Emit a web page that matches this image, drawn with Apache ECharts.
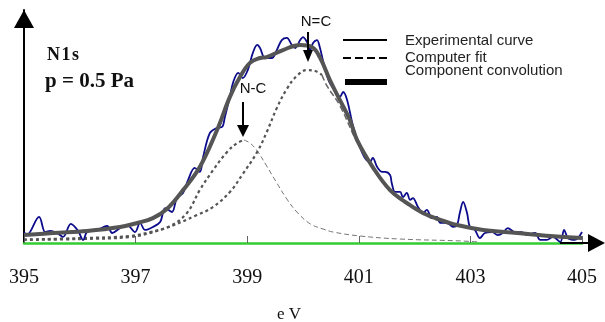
<!DOCTYPE html>
<html>
<head>
<meta charset="utf-8">
<script src="https://cdn.jsdelivr.net/npm/echarts@6/dist/echarts.min.js"></script>
<style>
html,body{margin:0;padding:0;background:#fff;}
#chart{width:605px;height:322px;}
</style>
</head>
<body>
<div id="chart"></div>
<script>
// Experimental curve (binding energy, eV / intensity, arbitrary units)
const expE = [395.0,395.05,395.27,395.38,395.47,395.59,395.70,395.84,395.97,396.06,396.13,396.31,396.49,396.58,396.72,396.85,396.99,397.08,397.17,397.31,397.44,397.53,397.65,397.74,397.85,397.94,398.06,398.15,398.21,398.33,398.46,398.55,398.60,398.69,398.75,398.84,398.92,399.01,399.10,399.18,399.23,399.32,399.44,399.53,399.62,399.71,399.80,399.86,399.95,400.00,400.07,400.13,400.18,400.25,400.30,400.39,400.48,400.57,400.66,400.72,400.79,400.90,401.02,401.11,401.20,401.25,401.33,401.42,401.47,401.56,401.59,401.65,401.74,401.79,401.86,401.92,401.97,402.06,402.15,402.22,402.31,402.40,402.46,402.58,402.69,402.76,402.81,402.87,402.94,402.99,403.08,403.17,403.26,403.39,403.49,403.58,403.67,403.80,403.92,404.01,404.16,404.25,404.37,404.48,404.61,404.68,404.75,404.87,405.0];
const expV = [4.7,3.4,11.2,4.7,5.2,4.3,2.6,8.2,5.2,1.3,4.7,5.6,7.3,4.3,6.4,7.7,4.7,8.6,5.6,6.9,9.0,15.0,13.3,19.3,21.5,27.0,32.2,30.5,36.9,47.2,49.4,49.8,54.1,62.7,69.1,73.0,70.8,74.2,81.5,85.0,83.7,79.4,79.4,82.8,87.1,88.0,85.0,83.7,87.1,88.4,86.3,82.8,85.8,87.1,84.1,75.1,68.7,65.7,62.7,64.8,61.4,49.8,41.2,36.5,34.8,36.5,32.6,30.5,30.5,29.2,25.8,21.9,21.9,19.7,21.5,18.5,19.3,15.5,12.9,14.2,10.7,11.2,8.6,8.6,6.9,7.7,12.9,17.6,12.9,6.9,5.6,2.1,4.3,4.7,3.4,4.3,6.4,4.7,4.7,3.4,4.3,1.3,1.3,2.6,0.4,5.6,2.1,1.3,4.7];

// Total fit (thick grey)
const fitE = [395.0,395.52,396.13,396.72,397.03,397.31,397.56,397.85,398.15,398.46,398.69,398.87,399.05,399.23,399.35,399.64,399.95,400.16,400.30,400.48,400.66,400.84,400.97,401.25,401.56,401.86,402.15,402.46,402.76,403.23,403.84,404.43,405.0];
const fitV = [3.4,4.3,5.2,6.9,8.6,10.7,14.6,22.7,32.6,48.5,62.7,71.2,77.3,79.4,79.8,82.8,85.0,84.1,79.8,70.0,61.4,52.8,44.2,32.6,22.7,17.2,12.9,9.9,7.7,5.6,4.3,3.0,2.1];

// Component N-C
const c1E = [395.0,396.0,396.9,397.26,397.62,397.92,398.15,398.39,398.64,398.82,398.94,399.05,399.18,399.35,399.53,399.71,399.89,400.13,400.36,400.54,401.02,401.74,402.81,403.17];
const c1V = [1.5,2.1,3.0,4.7,7.3,12.9,22.7,31.3,39.1,42.9,44.2,42.9,39.5,33.0,25.8,18.9,13.3,8.2,6.0,4.7,3.0,1.7,0.9,0.4];
const c1Split = 398.94;

// Component N=C
const c2E = [395.0,396.0,396.9,397.49,398.1,398.39,398.69,398.92,399.18,399.35,399.53,399.71,399.89,400.07,400.22,400.34,400.43,400.66,401.0,401.5,402.0,402.5,403.0,403.5,404.0,404.5,405.0];
const c2V = [1.3,1.7,2.6,6.0,12.0,15.5,21.9,29.6,39.1,47.6,57.9,66.1,71.7,74.2,73.8,72.1,67.4,59.0,42.0,24.0,14.5,9.0,6.3,5.0,4.0,3.0,2.0];
const c2Split = 400.34;

// Axis ticks
const xMin = 395, xMax = 405, xStep = 2;

const legendLabels = ['Experimental curve', 'Computer fit', 'Component convolution'];
const peakLabels = ['N=C', 'N-C'];

const pairs = (E, V) => E.map((e, i) => [e, V[i]]);
const upTo = (E, V, s) => pairs(E, V).filter(p => p[0] <= s);
const from = (E, V, s) => pairs(E, V).filter(p => p[0] >= s);

const chart = echarts.init(document.getElementById('chart'), null, {renderer: 'canvas'});

const grey = '#555555';
const option = {
  animation: false,
  backgroundColor: '#ffffff',
  grid: {left: 24, right: 23, top: 10, bottom: 79},
  xAxis: {
    type: 'value', min: xMin, max: xMax, interval: xStep,
    axisLine: {show: true, lineStyle: {color: '#33cc33', width: 2.5}},
    axisTick: {show: true, inside: true, length: 7, lineStyle: {color: '#666', width: 1}},
    axisLabel: {margin: 25, fontFamily: 'Liberation Serif', fontSize: 20, color: '#111'},
    splitLine: {show: false}
  },
  yAxis: {
    type: 'value', min: 0, max: 100,
    axisLine: {show: true, lineStyle: {color: '#000', width: 2}},
    axisTick: {show: false}, axisLabel: {show: false}, splitLine: {show: false}
  },
  series: [
    {type: 'line', data: upTo(c1E, c1V, c1Split), smooth: 0.4, symbol: 'none', z: 2,
     lineStyle: {color: grey, width: 2.2, type: [3, 3]}},
    {type: 'line', data: from(c1E, c1V, c1Split), smooth: 0.4, symbol: 'none', z: 2,
     lineStyle: {color: '#777', width: 1, type: [5, 3]}},
    {type: 'line', data: upTo(c2E, c2V, c2Split), smooth: 0.4, symbol: 'none', z: 2,
     lineStyle: {color: grey, width: 2.2, type: [3, 3]}},
    {type: 'line', data: from(c2E, c2V, c2Split), smooth: 0.4, symbol: 'none', z: 2,
     lineStyle: {color: '#666', width: 1.5, type: [6, 3]}},
    {type: 'line', data: pairs(expE, expV), smooth: 0.35, symbol: 'none', z: 3,
     lineStyle: {color: '#0b0b8c', width: 1.8}},
    {type: 'line', data: pairs(fitE, fitV), smooth: 0.4, symbol: 'none', z: 4,
     lineStyle: {color: grey, width: 4}}
  ],
  graphic: [
    // y axis arrow head
    {type: 'polygon', shape: {points: [[24, 10], [14, 28], [34, 28]]}, style: {fill: '#000'}, z: 10},
    // x axis arrow
    {type: 'line', shape: {x1: 560, y1: 243, x2: 592, y2: 243}, style: {stroke: '#000', lineWidth: 2}, z: 10},
    {type: 'polygon', shape: {points: [[605, 243], [588, 234], [588, 252]]}, style: {fill: '#000'}, z: 10},
    // legend
    {type: 'line', shape: {x1: 343, y1: 40, x2: 387, y2: 40}, style: {stroke: '#000', lineWidth: 2}, z: 10},
    {type: 'line', shape: {x1: 343, y1: 58, x2: 387, y2: 58}, style: {stroke: '#000', lineWidth: 2, lineDash: [8, 4]}, z: 10},
    {type: 'rect', shape: {x: 345, y: 79, width: 42, height: 6}, style: {fill: '#000'}, z: 10},
    {type: 'text', x: 405, y: 41, style: {text: legendLabels[0], font: '15px "Liberation Sans"', fill: '#222', verticalAlign: 'middle'}, z: 10},
    {type: 'text', x: 405, y: 58, style: {text: legendLabels[1], font: '15px "Liberation Sans"', fill: '#222', verticalAlign: 'middle'}, z: 10},
    {type: 'text', x: 405, y: 71, style: {text: legendLabels[2], font: '15px "Liberation Sans"', fill: '#222', verticalAlign: 'middle'}, z: 10},
    // peak labels and arrows
    {type: 'text', x: 316, y: 22, style: {text: peakLabels[0], font: '15px "Liberation Sans"', fill: '#111', align: 'center', verticalAlign: 'middle'}, z: 10},
    {type: 'line', shape: {x1: 308, y1: 32, x2: 308, y2: 52}, style: {stroke: '#000', lineWidth: 2}, z: 10},
    {type: 'polygon', shape: {points: [[303, 50], [313, 50], [308, 62]]}, style: {fill: '#000'}, z: 10},
    {type: 'text', x: 253, y: 89, style: {text: peakLabels[1], font: '15px "Liberation Sans"', fill: '#111', align: 'center', verticalAlign: 'middle'}, z: 10},
    {type: 'line', shape: {x1: 243, y1: 102, x2: 243, y2: 127}, style: {stroke: '#000', lineWidth: 2}, z: 10},
    {type: 'polygon', shape: {points: [[237, 125], [249, 125], [243, 137]]}, style: {fill: '#000'}, z: 10},
    // sample labels
    {type: 'text', x: 47, y: 55, style: {text: 'N\u200A1\u200As', font: 'bold 18px "Liberation Serif"', fill: '#111', verticalAlign: 'middle'}, z: 10},
    {type: 'text', x: 45, y: 82, style: {text: 'p = 0.5 Pa', font: 'bold 21px "Liberation Serif"', fill: '#111', verticalAlign: 'middle'}, z: 10},
    // axis unit
    {type: 'text', x: 289, y: 315, style: {text: 'e V', font: '17px "Liberation Serif"', fill: '#111', align: 'center', verticalAlign: 'middle'}, z: 10}
  ]
};
chart.setOption(option);
</script>
</body>
</html>
